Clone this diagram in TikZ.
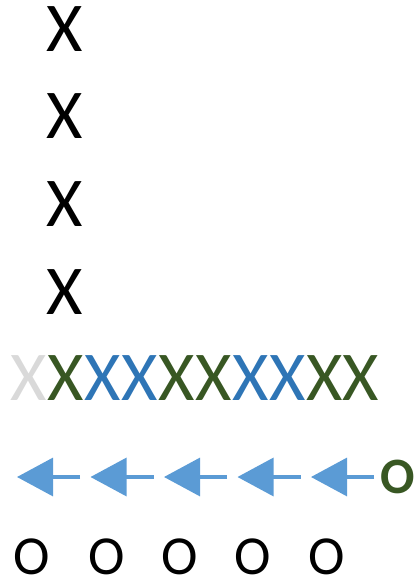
\documentclass[tikz,border=0pt]{standalone}
\usepackage{fontspec}
\setmainfont{Carlito}
\usetikzlibrary{arrows.meta}
\definecolor{xgreen}{HTML}{385723}
\definecolor{xblue}{HTML}{2E75B6}
\definecolor{xgrey}{HTML}{D9D9D9}
\definecolor{arrblue}{HTML}{5B9BD5}
\tikzset{
  bigx/.style={inner sep=0pt, font=\fontsize{70}{70}\selectfont},
  bigo/.style={inner sep=0pt, font=\fontsize{55}{55}\selectfont},
  boldo/.style={inner sep=0pt, text=xgreen, font=\fontsize{51}{51}\selectfont\bfseries},
  shiftarrow/.style={draw=arrblue, line width=3.2pt, -{Triangle[length=36pt,width=38pt]}, shorten >=0pt}
}
\begin{document}
\begin{tikzpicture}[x=1pt,y=-1pt]
\useasboundingbox (0,0) rectangle (417,579);
% vertical X column
\node[bigx] (v1) at (65,29.5) {X};
\node[bigx] (v2) at (65,116.5) {X};
\node[bigx] (v3) at (65,204.5) {X};
\node[bigx] (v4) at (65,292.5) {X};
% row of X
\foreach \i/\c in {0/xgrey,1/xgreen,2/xblue,3/xblue,4/xgreen,5/xgreen,6/xblue,7/xblue,8/xgreen,9/xgreen}{
  \node[bigx, text=\c] (h\i) at ({29+36.9*\i},378.5) {X};
}
% green O
\node[boldo] (go) at (397.5,476.5) {O};
% arrows
\foreach \i in {0,...,4}{
  \coordinate (t\i) at ({80+73.5*\i},477);
  \coordinate (p\i) at ({17+73.5*\i},477);
  \draw[shiftarrow] (t\i) -- (p\i);
}
% bottom O row
\foreach \i/\x in {0/32,1/107,2/180,3/253,4/327}{
  \node[bigo] (o\i) at (\x,556.5) {O};
}
\end{tikzpicture}
\end{document}
